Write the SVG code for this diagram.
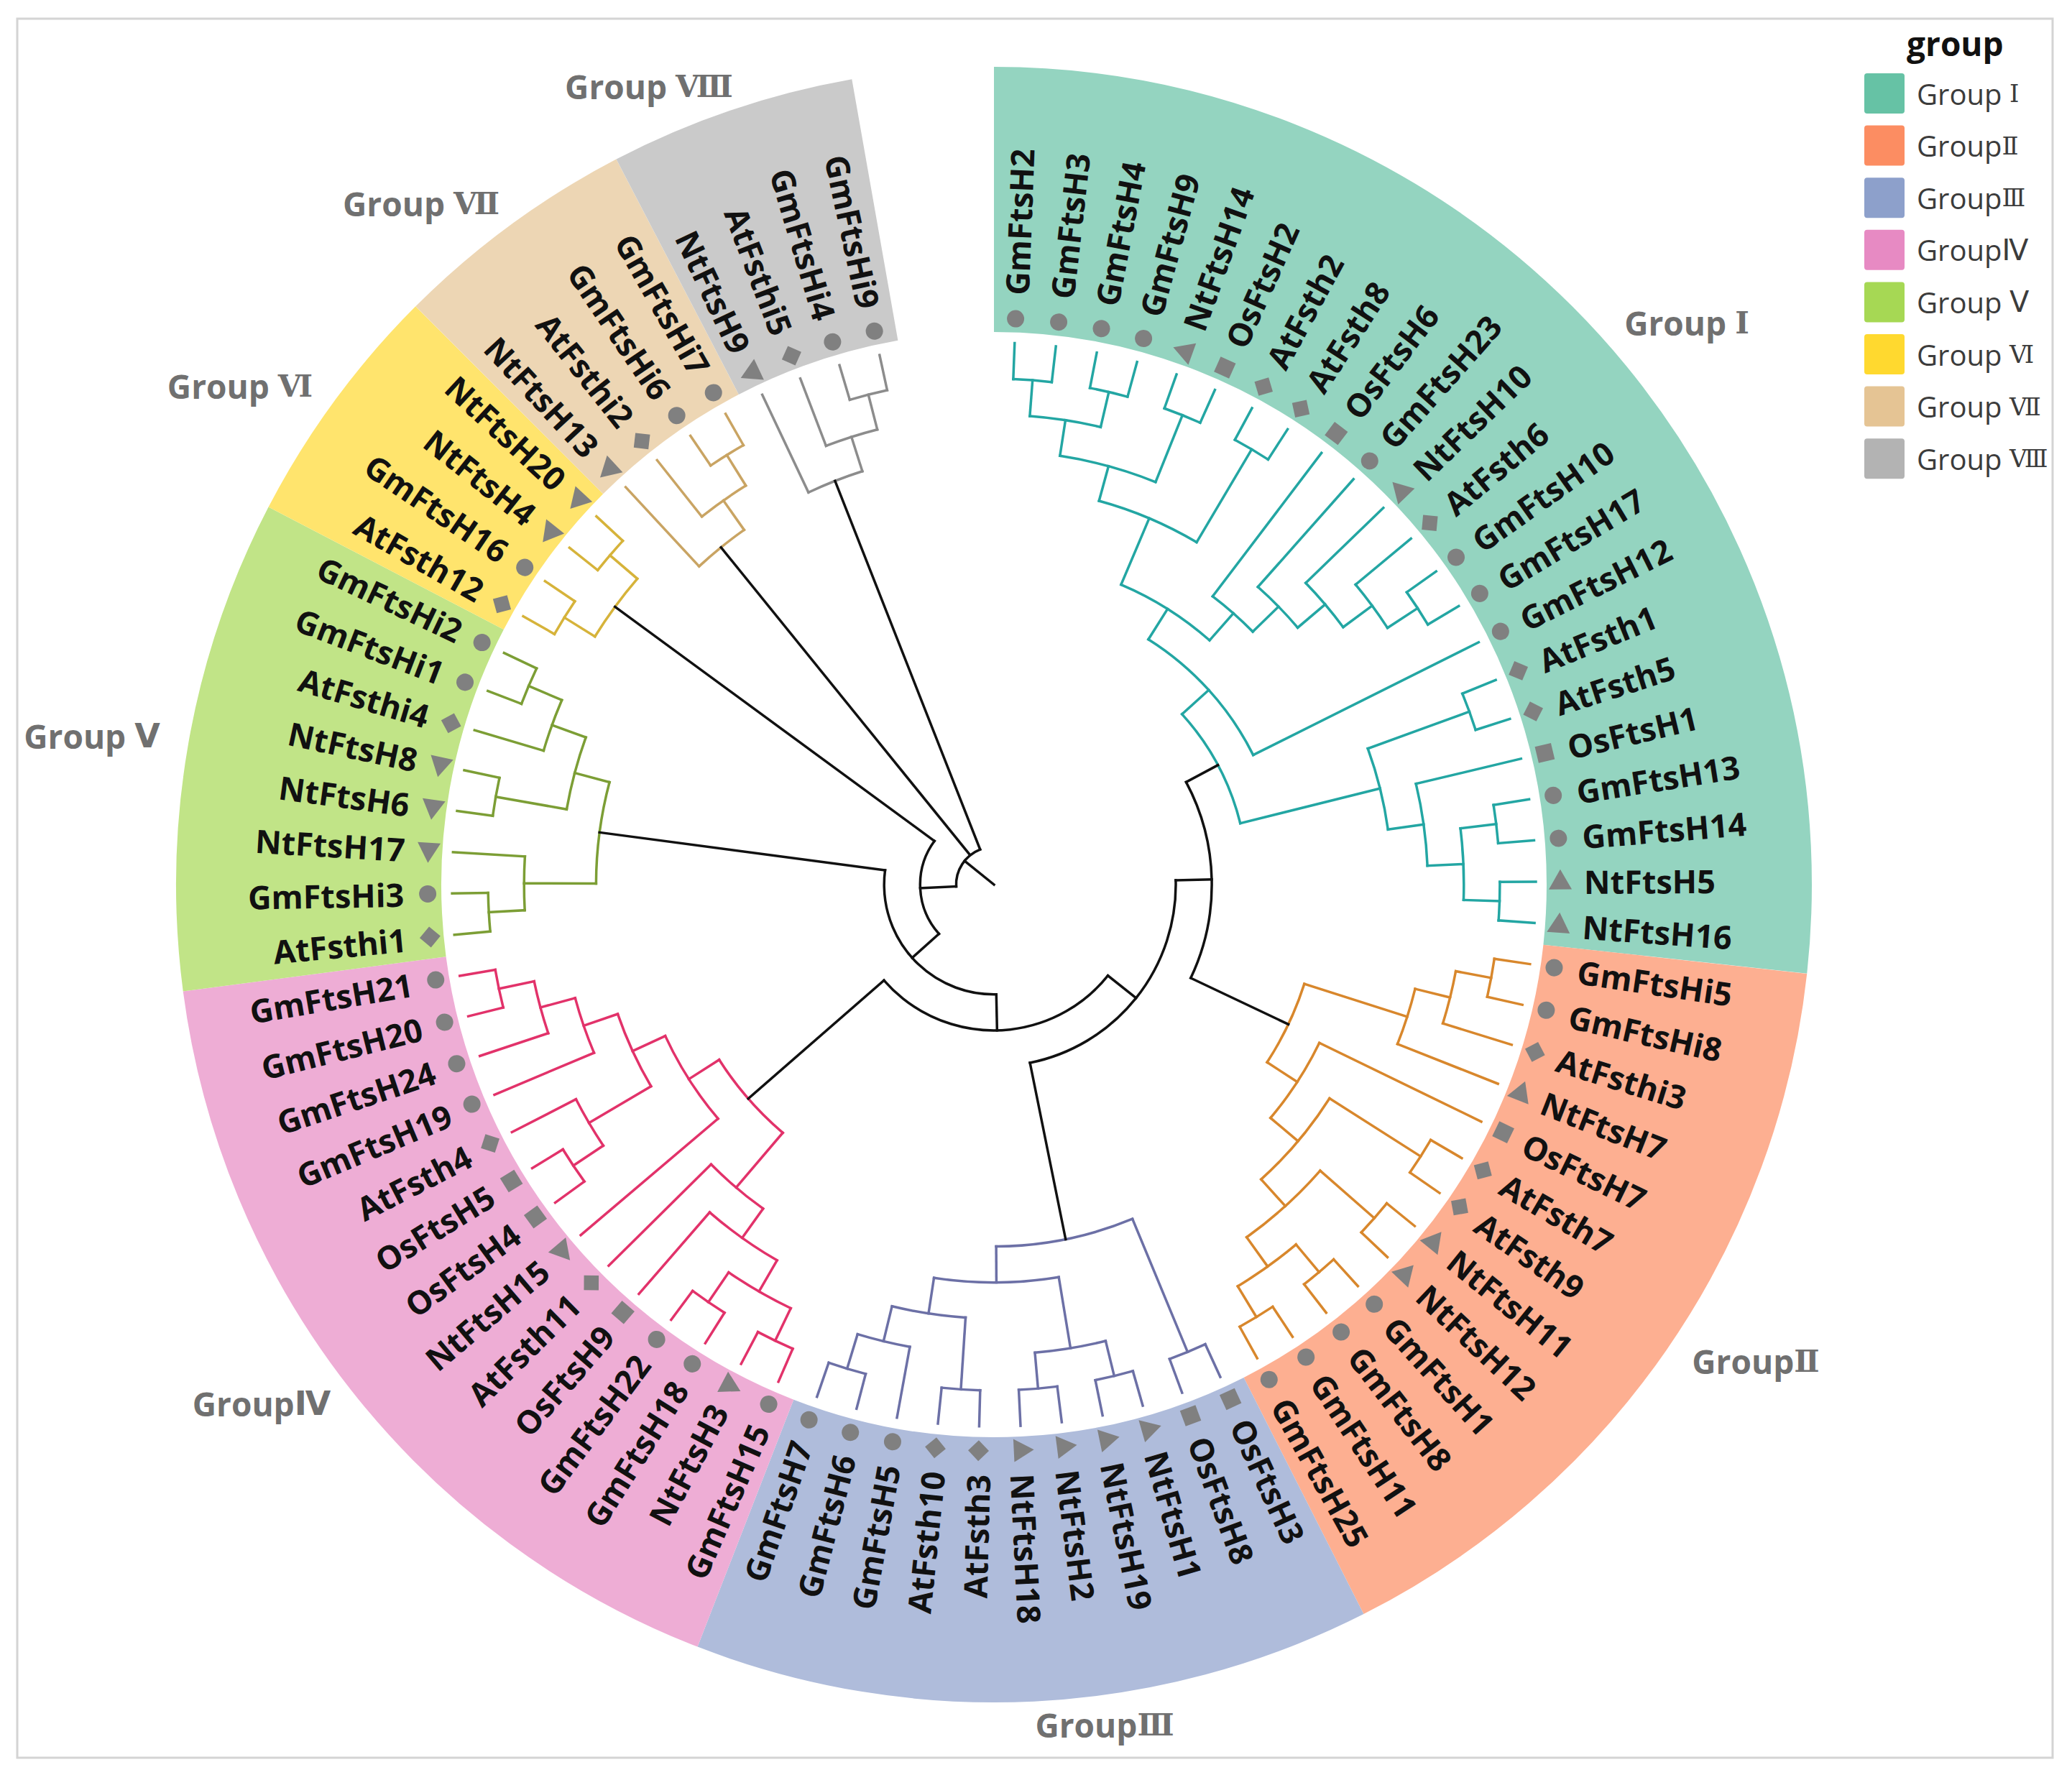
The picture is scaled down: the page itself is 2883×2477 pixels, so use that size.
<svg xmlns="http://www.w3.org/2000/svg" xmlns:xlink="http://www.w3.org/1999/xlink" width="2883" height="2477" viewBox="0 0 2883 2477">
<style>
.c1{stroke:#23a6a3}.c2{stroke:#d8872c}.c3{stroke:#6c70a6}.c4{stroke:#e2326a}
.c5{stroke:#7c9e35}.c6{stroke:#d6b33a}.c7{stroke:#c9a463}.c8{stroke:#8c8c8c}.k{stroke:#111}
.lv text{font-family:"Open Sans","Noto Sans",sans-serif;font-weight:700;font-size:45px;fill:#111;dominant-baseline:central}
.lv text.L{text-anchor:end}
.lv use{fill:#808080}
.gl{font-family:"Open Sans","Noto Sans CJK SC",sans-serif;font-weight:700;font-size:46px;fill:#707070;text-anchor:middle;dominant-baseline:central}
.lg{font-family:"Open Sans","Noto Sans CJK SC",sans-serif;font-size:40px;fill:#3c3c3c;dominant-baseline:central}
.rn{font-family:"DejaVu Serif","DejaVu Sans","Noto Sans CJK SC",serif}
.rs{font-family:"DejaVu Sans","Noto Sans CJK SC",sans-serif}
.gl .rn{font-size:42px}
.lg .rn{font-size:34px}
</style>
<defs>
<circle id="mc" r="12"/>
<rect id="ms" x="-11.5" y="-11.5" width="23" height="23"/>
<polygon id="md" points="0,-14.5 14.5,0 0,14.5 -14.5,0"/>
<polygon id="mt" points="0,-17 16,11 -16,11"/>
<polygon id="mtL" points="0,17 16,-11 -16,-11"/>
</defs>
<rect width="2883" height="2477" fill="#fff"/>
<rect x="24" y="26" width="2832" height="2420" fill="none" stroke="#d4d4d4" stroke-width="3"/>

<g id="bands" transform="translate(1383 1231)" fill="none" stroke-width="369">
<circle r="953.5" pathLength="360" stroke="#94d4c0" stroke-dasharray="96.25 400" transform="rotate(-90)"/>
<circle r="953.5" pathLength="360" stroke="#fdaf91" stroke-dasharray="56.875 400" transform="rotate(6.25)"/>
<circle r="953.5" pathLength="360" stroke="#afbcdb" stroke-dasharray="48.125 400" transform="rotate(63.125)"/>
<circle r="953.5" pathLength="360" stroke="#eeadd5" stroke-dasharray="61.25 400" transform="rotate(111.25)"/>
<circle r="953.5" pathLength="360" stroke="#c1e487" stroke-dasharray="35 400" transform="rotate(172.5)"/>
<circle r="953.5" pathLength="360" stroke="#ffe46d" stroke-dasharray="17.5 400" transform="rotate(207.5)"/>
<circle r="953.5" pathLength="360" stroke="#edd6b4" stroke-dasharray="17.5 400" transform="rotate(225)"/>
<circle r="953.5" pathLength="360" stroke="#cacaca" stroke-dasharray="17.5 400" transform="rotate(242.5)"/>
</g>

<g id="connectors" transform="translate(1383 1231)" fill="none" stroke-width="3.5" stroke-linecap="square">
<g class="c1">
<path d="M0-703.9V-754" transform="rotate(2.1875)"/>
<path d="M0-703.9V-754" transform="rotate(6.5625)"/>
<path d="M0-703.9V-754" transform="rotate(10.9375)"/>
<path d="M0-703.9V-754" transform="rotate(15.3125)"/>
<path d="M0-703.9V-754" transform="rotate(19.6875)"/>
<path d="M0-703.9V-754" transform="rotate(24.0625)"/>
<path d="M0-703.9V-754" transform="rotate(28.4375)"/>
<path d="M0-703.9V-754" transform="rotate(32.8125)"/>
<path d="M0-503.5V-754" transform="rotate(37.1875)"/>
<path d="M0-553.6V-754" transform="rotate(41.5625)"/>
<path d="M0-603.7V-754" transform="rotate(45.9375)"/>
<path d="M0-653.8V-754" transform="rotate(50.3125)"/>
<path d="M0-703.9V-754" transform="rotate(54.6875)"/>
<path d="M0-703.9V-754" transform="rotate(59.0625)"/>
<path d="M0-403.3V-754" transform="rotate(63.4375)"/>
<path d="M0-703.9V-754" transform="rotate(67.8125)"/>
<path d="M0-703.9V-754" transform="rotate(72.1875)"/>
<path d="M0-603.7V-754" transform="rotate(76.5625)"/>
<path d="M0-703.9V-754" transform="rotate(80.9375)"/>
<path d="M0-703.9V-754" transform="rotate(85.3125)"/>
<path d="M0-703.9V-754" transform="rotate(89.6875)"/>
<path d="M0-703.9V-754" transform="rotate(94.0625)"/>
<path d="M0-653.8V-703.9" transform="rotate(4.375)"/>
<path d="M0-653.8V-703.9" transform="rotate(13.125)"/>
<path d="M0-603.7V-653.8" transform="rotate(8.75)"/>
<path d="M0-603.7V-703.9" transform="rotate(21.875)"/>
<path d="M0-553.6V-603.7" transform="rotate(15.3125)"/>
<path d="M0-553.6V-703.9" transform="rotate(30.625)"/>
<path d="M0-453.4V-553.6" transform="rotate(22.96875)"/>
<path d="M0-653.8V-703.9" transform="rotate(56.875)"/>
<path d="M0-603.7V-653.8" transform="rotate(53.59375)"/>
<path d="M0-553.6V-603.7" transform="rotate(49.765625)"/>
<path d="M0-503.5V-553.6" transform="rotate(45.6640625)"/>
<path d="M0-453.4V-503.5" transform="rotate(41.42578)"/>
<path d="M0-403.3V-453.4" transform="rotate(32.19727)"/>
<path d="M0-353.2V-403.3" transform="rotate(47.81738)"/>
<path d="M0-553.6V-703.9" transform="rotate(70)"/>
<path d="M0-653.8V-703.9" transform="rotate(83.125)"/>
<path d="M0-653.8V-703.9" transform="rotate(91.875)"/>
<path d="M0-603.7V-653.8" transform="rotate(87.5)"/>
<path d="M0-553.6V-603.7" transform="rotate(82.03125)"/>
<path d="M0-353.2V-553.6" transform="rotate(76.015625)"/>
<circle r="703.9" pathLength="360" stroke-dasharray="4.375 400" transform="rotate(-87.8125)"/>
<circle r="703.9" pathLength="360" stroke-dasharray="4.375 400" transform="rotate(-79.0625)"/>
<circle r="653.8" pathLength="360" stroke-dasharray="8.75 400" transform="rotate(-85.625)"/>
<circle r="703.9" pathLength="360" stroke-dasharray="4.375 400" transform="rotate(-70.3125)"/>
<circle r="603.7" pathLength="360" stroke-dasharray="13.125 400" transform="rotate(-81.25)"/>
<circle r="703.9" pathLength="360" stroke-dasharray="4.375 400" transform="rotate(-61.5625)"/>
<circle r="553.6" pathLength="360" stroke-dasharray="15.3125 400" transform="rotate(-74.6875)"/>
<circle r="703.9" pathLength="360" stroke-dasharray="4.375 400" transform="rotate(-35.3125)"/>
<circle r="653.8" pathLength="360" stroke-dasharray="6.5625 400" transform="rotate(-39.6875)"/>
<circle r="603.7" pathLength="360" stroke-dasharray="7.65625 400" transform="rotate(-44.0625)"/>
<circle r="553.6" pathLength="360" stroke-dasharray="8.203125 400" transform="rotate(-48.4375)"/>
<circle r="503.5" pathLength="360" stroke-dasharray="8.47656 400" transform="rotate(-52.8125)"/>
<circle r="453.4" pathLength="360" stroke-dasharray="18.45703 400" transform="rotate(-67.03125)"/>
<circle r="403.3" pathLength="360" stroke-dasharray="31.24023 400" transform="rotate(-57.80273)"/>
<circle r="703.9" pathLength="360" stroke-dasharray="4.375 400" transform="rotate(-22.1875)"/>
<circle r="703.9" pathLength="360" stroke-dasharray="4.375 400" transform="rotate(-9.0625)"/>
<circle r="703.9" pathLength="360" stroke-dasharray="4.375 400" transform="rotate(-0.3125)"/>
<circle r="653.8" pathLength="360" stroke-dasharray="8.75 400" transform="rotate(-6.875)"/>
<circle r="603.7" pathLength="360" stroke-dasharray="10.9375 400" transform="rotate(-13.4375)"/>
<circle r="553.6" pathLength="360" stroke-dasharray="12.03125 400" transform="rotate(-20)"/>
<circle r="353.2" pathLength="360" stroke-dasharray="28.19824 400" transform="rotate(-42.18262)"/>
</g>
<g class="c2">
<path d="M0-703.9V-754" transform="rotate(98.4375)"/>
<path d="M0-703.9V-754" transform="rotate(102.8125)"/>
<path d="M0-653.8V-754" transform="rotate(107.1875)"/>
<path d="M0-603.7V-754" transform="rotate(111.5625)"/>
<path d="M0-503.5V-754" transform="rotate(115.9375)"/>
<path d="M0-703.9V-754" transform="rotate(120.3125)"/>
<path d="M0-703.9V-754" transform="rotate(124.6875)"/>
<path d="M0-703.9V-754" transform="rotate(129.0625)"/>
<path d="M0-703.9V-754" transform="rotate(133.4375)"/>
<path d="M0-703.9V-754" transform="rotate(137.8125)"/>
<path d="M0-703.9V-754" transform="rotate(142.1875)"/>
<path d="M0-703.9V-754" transform="rotate(146.5625)"/>
<path d="M0-703.9V-754" transform="rotate(150.9375)"/>
<path d="M0-653.8V-703.9" transform="rotate(100.625)"/>
<path d="M0-603.7V-653.8" transform="rotate(103.90625)"/>
<path d="M0-453.4V-603.7" transform="rotate(107.734375)"/>
<path d="M0-553.6V-703.9" transform="rotate(122.5)"/>
<path d="M0-603.7V-703.9" transform="rotate(131.25)"/>
<path d="M0-653.8V-703.9" transform="rotate(140)"/>
<path d="M0-653.8V-703.9" transform="rotate(148.75)"/>
<path d="M0-603.7V-653.8" transform="rotate(144.375)"/>
<path d="M0-553.6V-603.7" transform="rotate(137.8125)"/>
<path d="M0-503.5V-553.6" transform="rotate(130.15625)"/>
<path d="M0-453.4V-503.5" transform="rotate(123.046875)"/>
<circle r="703.9" pathLength="360" stroke-dasharray="4.375 400" transform="rotate(8.4375)"/>
<circle r="653.8" pathLength="360" stroke-dasharray="6.5625 400" transform="rotate(10.625)"/>
<circle r="603.7" pathLength="360" stroke-dasharray="7.65625 400" transform="rotate(13.90625)"/>
<circle r="703.9" pathLength="360" stroke-dasharray="4.375 400" transform="rotate(30.3125)"/>
<circle r="703.9" pathLength="360" stroke-dasharray="4.375 400" transform="rotate(39.0625)"/>
<circle r="703.9" pathLength="360" stroke-dasharray="4.375 400" transform="rotate(47.8125)"/>
<circle r="703.9" pathLength="360" stroke-dasharray="4.375 400" transform="rotate(56.5625)"/>
<circle r="653.8" pathLength="360" stroke-dasharray="8.75 400" transform="rotate(50)"/>
<circle r="603.7" pathLength="360" stroke-dasharray="13.125 400" transform="rotate(41.25)"/>
<circle r="553.6" pathLength="360" stroke-dasharray="15.3125 400" transform="rotate(32.5)"/>
<circle r="503.5" pathLength="360" stroke-dasharray="14.21875 400" transform="rotate(25.9375)"/>
<circle r="453.4" pathLength="360" stroke-dasharray="15.3125 400" transform="rotate(17.734375)"/>
</g>
<g class="c3">
<path d="M0-703.9V-754" transform="rotate(155.3125)"/>
<path d="M0-703.9V-754" transform="rotate(159.6875)"/>
<path d="M0-703.9V-754" transform="rotate(164.0625)"/>
<path d="M0-703.9V-754" transform="rotate(168.4375)"/>
<path d="M0-703.9V-754" transform="rotate(172.8125)"/>
<path d="M0-703.9V-754" transform="rotate(177.1875)"/>
<path d="M0-703.9V-754" transform="rotate(181.5625)"/>
<path d="M0-703.9V-754" transform="rotate(185.9375)"/>
<path d="M0-653.8V-754" transform="rotate(190.3125)"/>
<path d="M0-703.9V-754" transform="rotate(194.6875)"/>
<path d="M0-703.9V-754" transform="rotate(199.0625)"/>
<path d="M0-503.5V-703.9" transform="rotate(157.5)"/>
<path d="M0-653.8V-703.9" transform="rotate(166.25)"/>
<path d="M0-653.8V-703.9" transform="rotate(175)"/>
<path d="M0-553.6V-653.8" transform="rotate(170.625)"/>
<path d="M0-603.7V-703.9" transform="rotate(183.75)"/>
<path d="M0-653.8V-703.9" transform="rotate(196.875)"/>
<path d="M0-603.7V-653.8" transform="rotate(193.59375)"/>
<path d="M0-553.6V-603.7" transform="rotate(188.671875)"/>
<path d="M0-503.5V-553.6" transform="rotate(179.6484375)"/>
<circle r="703.9" pathLength="360" stroke-dasharray="4.375 400" transform="rotate(65.3125)"/>
<circle r="703.9" pathLength="360" stroke-dasharray="4.375 400" transform="rotate(74.0625)"/>
<circle r="703.9" pathLength="360" stroke-dasharray="4.375 400" transform="rotate(82.8125)"/>
<circle r="653.8" pathLength="360" stroke-dasharray="8.75 400" transform="rotate(76.25)"/>
<circle r="703.9" pathLength="360" stroke-dasharray="4.375 400" transform="rotate(91.5625)"/>
<circle r="703.9" pathLength="360" stroke-dasharray="4.375 400" transform="rotate(104.6875)"/>
<circle r="653.8" pathLength="360" stroke-dasharray="6.5625 400" transform="rotate(100.3125)"/>
<circle r="603.7" pathLength="360" stroke-dasharray="9.84375 400" transform="rotate(93.75)"/>
<circle r="553.6" pathLength="360" stroke-dasharray="18.046875 400" transform="rotate(80.625)"/>
<circle r="503.5" pathLength="360" stroke-dasharray="22.1484375 400" transform="rotate(67.5)"/>
</g>
<g class="c4">
<path d="M0-703.9V-754" transform="rotate(203.4375)"/>
<path d="M0-703.9V-754" transform="rotate(207.8125)"/>
<path d="M0-703.9V-754" transform="rotate(212.1875)"/>
<path d="M0-703.9V-754" transform="rotate(216.5625)"/>
<path d="M0-603.7V-754" transform="rotate(220.9375)"/>
<path d="M0-553.6V-754" transform="rotate(225.3125)"/>
<path d="M0-503.5V-754" transform="rotate(229.6875)"/>
<path d="M0-703.9V-754" transform="rotate(234.0625)"/>
<path d="M0-703.9V-754" transform="rotate(238.4375)"/>
<path d="M0-653.8V-754" transform="rotate(242.8125)"/>
<path d="M0-603.7V-754" transform="rotate(247.1875)"/>
<path d="M0-653.8V-754" transform="rotate(251.5625)"/>
<path d="M0-703.9V-754" transform="rotate(255.9375)"/>
<path d="M0-703.9V-754" transform="rotate(260.3125)"/>
<path d="M0-653.8V-703.9" transform="rotate(258.125)"/>
<path d="M0-603.7V-653.8" transform="rotate(254.84375)"/>
<path d="M0-553.6V-603.7" transform="rotate(251.015625)"/>
<path d="M0-653.8V-703.9" transform="rotate(236.25)"/>
<path d="M0-553.6V-653.8" transform="rotate(239.53125)"/>
<path d="M0-503.5V-553.6" transform="rotate(245.2734375)"/>
<path d="M0-453.4V-503.5" transform="rotate(237.4804688)"/>
<path d="M0-653.8V-703.9" transform="rotate(214.375)"/>
<path d="M0-653.8V-703.9" transform="rotate(205.625)"/>
<path d="M0-603.7V-653.8" transform="rotate(210)"/>
<path d="M0-553.6V-603.7" transform="rotate(215.46875)"/>
<path d="M0-453.4V-553.6" transform="rotate(220.390625)"/>
<circle r="703.9" pathLength="360" stroke-dasharray="4.375 400" transform="rotate(165.9375)"/>
<circle r="653.8" pathLength="360" stroke-dasharray="6.5625 400" transform="rotate(161.5625)"/>
<circle r="603.7" pathLength="360" stroke-dasharray="7.65625 400" transform="rotate(157.1875)"/>
<circle r="703.9" pathLength="360" stroke-dasharray="4.375 400" transform="rotate(144.0625)"/>
<circle r="653.8" pathLength="360" stroke-dasharray="6.5625 400" transform="rotate(146.25)"/>
<circle r="553.6" pathLength="360" stroke-dasharray="11.484375 400" transform="rotate(149.53125)"/>
<circle r="503.5" pathLength="360" stroke-dasharray="15.5859375 400" transform="rotate(139.6875)"/>
<circle r="703.9" pathLength="360" stroke-dasharray="4.375 400" transform="rotate(122.1875)"/>
<circle r="703.9" pathLength="360" stroke-dasharray="4.375 400" transform="rotate(113.4375)"/>
<circle r="653.8" pathLength="360" stroke-dasharray="8.75 400" transform="rotate(115.625)"/>
<circle r="603.7" pathLength="360" stroke-dasharray="10.9375 400" transform="rotate(120)"/>
<circle r="553.6" pathLength="360" stroke-dasharray="9.84375 400" transform="rotate(125.46875)"/>
<circle r="453.4" pathLength="360" stroke-dasharray="17.0898438 400" transform="rotate(130.390625)"/>
</g>
<g class="c5">
<path d="M0-703.9V-754" transform="rotate(264.6875)"/>
<path d="M0-703.9V-754" transform="rotate(269.0625)"/>
<path d="M0-653.8V-754" transform="rotate(273.4375)"/>
<path d="M0-703.9V-754" transform="rotate(277.8125)"/>
<path d="M0-703.9V-754" transform="rotate(282.1875)"/>
<path d="M0-653.8V-754" transform="rotate(286.5625)"/>
<path d="M0-703.9V-754" transform="rotate(290.9375)"/>
<path d="M0-703.9V-754" transform="rotate(295.3125)"/>
<path d="M0-653.8V-703.9" transform="rotate(266.875)"/>
<path d="M0-553.6V-653.8" transform="rotate(270.15625)"/>
<path d="M0-603.7V-703.9" transform="rotate(280)"/>
<path d="M0-653.8V-703.9" transform="rotate(293.125)"/>
<path d="M0-603.7V-653.8" transform="rotate(289.84375)"/>
<path d="M0-553.6V-603.7" transform="rotate(284.921875)"/>
<circle r="703.9" pathLength="360" stroke-dasharray="4.375 400" transform="rotate(174.6875)"/>
<circle r="653.8" pathLength="360" stroke-dasharray="6.5625 400" transform="rotate(176.875)"/>
<circle r="703.9" pathLength="360" stroke-dasharray="4.375 400" transform="rotate(187.8125)"/>
<circle r="703.9" pathLength="360" stroke-dasharray="4.375 400" transform="rotate(200.9375)"/>
<circle r="653.8" pathLength="360" stroke-dasharray="6.5625 400" transform="rotate(196.5625)"/>
<circle r="603.7" pathLength="360" stroke-dasharray="9.84375 400" transform="rotate(190)"/>
<circle r="553.6" pathLength="360" stroke-dasharray="14.765625 400" transform="rotate(180.15625)"/>
</g>
<g class="c6">
<path d="M0-703.9V-754" transform="rotate(299.6875)"/>
<path d="M0-703.9V-754" transform="rotate(304.0625)"/>
<path d="M0-703.9V-754" transform="rotate(308.4375)"/>
<path d="M0-703.9V-754" transform="rotate(312.8125)"/>
<path d="M0-653.8V-703.9" transform="rotate(301.875)"/>
<path d="M0-653.8V-703.9" transform="rotate(310.625)"/>
<circle r="703.9" pathLength="360" stroke-dasharray="4.375 400" transform="rotate(209.6875)"/>
<circle r="703.9" pathLength="360" stroke-dasharray="4.375 400" transform="rotate(218.4375)"/>
<circle r="653.8" pathLength="360" stroke-dasharray="8.75 400" transform="rotate(211.875)"/>
</g>
<g class="c7">
<path d="M0-603.7V-754" transform="rotate(317.1875)"/>
<path d="M0-653.8V-754" transform="rotate(321.5625)"/>
<path d="M0-703.9V-754" transform="rotate(325.9375)"/>
<path d="M0-703.9V-754" transform="rotate(330.3125)"/>
<path d="M0-653.8V-703.9" transform="rotate(328.125)"/>
<path d="M0-603.7V-653.8" transform="rotate(324.84375)"/>
<circle r="703.9" pathLength="360" stroke-dasharray="4.375 400" transform="rotate(235.9375)"/>
<circle r="653.8" pathLength="360" stroke-dasharray="6.5625 400" transform="rotate(231.5625)"/>
<circle r="603.7" pathLength="360" stroke-dasharray="7.65625 400" transform="rotate(227.1875)"/>
</g>
<g class="c8">
<path d="M0-603.7V-754" transform="rotate(334.6875)"/>
<path d="M0-653.8V-754" transform="rotate(339.0625)"/>
<path d="M0-703.9V-754" transform="rotate(343.4375)"/>
<path d="M0-703.9V-754" transform="rotate(347.8125)"/>
<path d="M0-653.8V-703.9" transform="rotate(345.625)"/>
<path d="M0-603.7V-653.8" transform="rotate(342.34375)"/>
<circle r="703.9" pathLength="360" stroke-dasharray="4.375 400" transform="rotate(253.4375)"/>
<circle r="653.8" pathLength="360" stroke-dasharray="6.5625 400" transform="rotate(249.0625)"/>
<circle r="603.7" pathLength="360" stroke-dasharray="7.65625 400" transform="rotate(244.6875)"/>
</g>
<g class="k">
<path d="M0-303.1V-353.2" transform="rotate(61.9165)"/>
<path d="M0-303.1V-453.4" transform="rotate(115.390625)"/>
<path d="M0-253V-503.5" transform="rotate(168.57421875)"/>
<path d="M0-202.9V-453.4" transform="rotate(228.9355469)"/>
<path d="M0-152.8V-553.6" transform="rotate(277.5390625)"/>
<path d="M0-102.7V-653.8" transform="rotate(306.25)"/>
<path d="M0-52.6V-603.7" transform="rotate(321.015625)"/>
<path d="M0-52.6V-603.7" transform="rotate(338.515625)"/>
<path d="M0-253V-303.1" transform="rotate(88.65356)"/>
<path d="M0-202.9V-253" transform="rotate(128.61389)"/>
<path d="M0-152.8V-202.9" transform="rotate(178.77472)"/>
<path d="M0-102.7V-152.8" transform="rotate(228.15689)"/>
<path d="M0-52.6V-102.7" transform="rotate(267.20345)"/>
<path d="M0 0V-52.6" transform="rotate(308.91157)"/>
<circle r="303.1" pathLength="360" stroke-dasharray="53.47412 400" transform="rotate(-28.0835)"/>
<circle r="253" pathLength="360" stroke-dasharray="79.92066 400" transform="rotate(-1.34644)"/>
<circle r="202.9" pathLength="360" stroke-dasharray="100.32166 400" transform="rotate(38.61389)"/>
<circle r="152.8" pathLength="360" stroke-dasharray="98.76434 400" transform="rotate(88.77472)"/>
<circle r="102.7" pathLength="360" stroke-dasharray="78.09311 400" transform="rotate(138.15689)"/>
<circle r="52.6" pathLength="360" stroke-dasharray="71.31218 400" transform="rotate(177.20345)"/>
</g>
</g>

<g id="leaves" class="lv" transform="translate(1383 1231)">
<g id="n-GmFtsH2" transform="rotate(-87.8125)"><use href="#mc" x="788"/><text x="821">GmFtsH2</text></g>
<g id="n-GmFtsH3" transform="rotate(-83.4375)"><use href="#mc" x="788"/><text x="821">GmFtsH3</text></g>
<g id="n-GmFtsH4" transform="rotate(-79.0625)"><use href="#mc" x="788"/><text x="821">GmFtsH4</text></g>
<g id="n-GmFtsH9" transform="rotate(-74.6875)"><use href="#mc" x="788"/><text x="821">GmFtsH9</text></g>
<g id="n-NtFtsH14" transform="rotate(-70.3125)"><use href="#mt" x="788"/><text x="821">NtFtsH14</text></g>
<g id="n-OsFtsH2" transform="rotate(-65.9375)"><use href="#ms" x="788"/><text x="821">OsFtsH2</text></g>
<g id="n-AtFsth2" transform="rotate(-61.5625)"><use href="#md" x="788"/><text x="821">AtFsth2</text></g>
<g id="n-AtFsth8" transform="rotate(-57.1875)"><use href="#md" x="788"/><text x="821">AtFsth8</text></g>
<g id="n-OsFtsH6" transform="rotate(-52.8125)"><use href="#ms" x="788"/><text x="821">OsFtsH6</text></g>
<g id="n-GmFtsH23" transform="rotate(-48.4375)"><use href="#mc" x="788"/><text x="821">GmFtsH23</text></g>
<g id="n-NtFtsH10" transform="rotate(-44.0625)"><use href="#mt" x="788"/><text x="821">NtFtsH10</text></g>
<g id="n-AtFsth6" transform="rotate(-39.6875)"><use href="#md" x="788"/><text x="821">AtFsth6</text></g>
<g id="n-GmFtsH10" transform="rotate(-35.3125)"><use href="#mc" x="788"/><text x="821">GmFtsH10</text></g>
<g id="n-GmFtsH17" transform="rotate(-30.9375)"><use href="#mc" x="788"/><text x="821">GmFtsH17</text></g>
<g id="n-GmFtsH12" transform="rotate(-26.5625)"><use href="#mc" x="788"/><text x="821">GmFtsH12</text></g>
<g id="n-AtFsth1" transform="rotate(-22.1875)"><use href="#md" x="788"/><text x="821">AtFsth1</text></g>
<g id="n-AtFsth5" transform="rotate(-17.8125)"><use href="#md" x="788"/><text x="821">AtFsth5</text></g>
<g id="n-OsFtsH1" transform="rotate(-13.4375)"><use href="#ms" x="788"/><text x="821">OsFtsH1</text></g>
<g id="n-GmFtsH13" transform="rotate(-9.0625)"><use href="#mc" x="788"/><text x="821">GmFtsH13</text></g>
<g id="n-GmFtsH14" transform="rotate(-4.6875)"><use href="#mc" x="788"/><text x="821">GmFtsH14</text></g>
<g id="n-NtFtsH5" transform="rotate(-0.3125)"><use href="#mt" x="788"/><text x="821">NtFtsH5</text></g>
<g id="n-NtFtsH16" transform="rotate(4.0625)"><use href="#mt" x="788"/><text x="821">NtFtsH16</text></g>
<g id="n-GmFtsHi5" transform="rotate(8.4375)"><use href="#mc" x="788"/><text x="821">GmFtsHi5</text></g>
<g id="n-GmFtsHi8" transform="rotate(12.8125)"><use href="#mc" x="788"/><text x="821">GmFtsHi8</text></g>
<g id="n-AtFsthi3" transform="rotate(17.1875)"><use href="#md" x="788"/><text x="821">AtFsthi3</text></g>
<g id="n-NtFtsH7" transform="rotate(21.5625)"><use href="#mt" x="788"/><text x="821">NtFtsH7</text></g>
<g id="n-OsFtsH7" transform="rotate(25.9375)"><use href="#ms" x="788"/><text x="821">OsFtsH7</text></g>
<g id="n-AtFsth7" transform="rotate(30.3125)"><use href="#md" x="788"/><text x="821">AtFsth7</text></g>
<g id="n-AtFsth9" transform="rotate(34.6875)"><use href="#md" x="788"/><text x="821">AtFsth9</text></g>
<g id="n-NtFtsH11" transform="rotate(39.0625)"><use href="#mt" x="788"/><text x="821">NtFtsH11</text></g>
<g id="n-NtFtsH12" transform="rotate(43.4375)"><use href="#mt" x="788"/><text x="821">NtFtsH12</text></g>
<g id="n-GmFtsH1" transform="rotate(47.8125)"><use href="#mc" x="788"/><text x="821">GmFtsH1</text></g>
<g id="n-GmFtsH8" transform="rotate(52.1875)"><use href="#mc" x="788"/><text x="821">GmFtsH8</text></g>
<g id="n-GmFtsH11" transform="rotate(56.5625)"><use href="#mc" x="788"/><text x="821">GmFtsH11</text></g>
<g id="n-GmFtsH25" transform="rotate(60.9375)"><use href="#mc" x="788"/><text x="821">GmFtsH25</text></g>
<g id="n-OsFtsH3" transform="rotate(65.3125)"><use href="#ms" x="788"/><text x="821">OsFtsH3</text></g>
<g id="n-OsFtsH8" transform="rotate(69.6875)"><use href="#ms" x="788"/><text x="821">OsFtsH8</text></g>
<g id="n-NtFtsH1" transform="rotate(74.0625)"><use href="#mt" x="788"/><text x="821">NtFtsH1</text></g>
<g id="n-NtFtsH19" transform="rotate(78.4375)"><use href="#mt" x="788"/><text x="821">NtFtsH19</text></g>
<g id="n-NtFtsH2" transform="rotate(82.8125)"><use href="#mt" x="788"/><text x="821">NtFtsH2</text></g>
<g id="n-NtFtsH18" transform="rotate(87.1875)"><use href="#mt" x="788"/><text x="821">NtFtsH18</text></g>
<g id="n-AtFsth3" transform="rotate(-88.4375)"><use href="#md" x="-788"/><text class="L" x="-821">AtFsth3</text></g>
<g id="n-AtFsth10" transform="rotate(-84.0625)"><use href="#md" x="-788"/><text class="L" x="-821">AtFsth10</text></g>
<g id="n-GmFtsH5" transform="rotate(-79.6875)"><use href="#mc" x="-788"/><text class="L" x="-821">GmFtsH5</text></g>
<g id="n-GmFtsH6" transform="rotate(-75.3125)"><use href="#mc" x="-788"/><text class="L" x="-821">GmFtsH6</text></g>
<g id="n-GmFtsH7" transform="rotate(-70.9375)"><use href="#mc" x="-788"/><text class="L" x="-821">GmFtsH7</text></g>
<g id="n-GmFtsH15" transform="rotate(-66.5625)"><use href="#mc" x="-788"/><text class="L" x="-821">GmFtsH15</text></g>
<g id="n-NtFtsH3" transform="rotate(-62.1875)"><use href="#mtL" x="-788"/><text class="L" x="-821">NtFtsH3</text></g>
<g id="n-GmFtsH18" transform="rotate(-57.8125)"><use href="#mc" x="-788"/><text class="L" x="-821">GmFtsH18</text></g>
<g id="n-GmFtsH22" transform="rotate(-53.4375)"><use href="#mc" x="-788"/><text class="L" x="-821">GmFtsH22</text></g>
<g id="n-OsFtsH9" transform="rotate(-49.0625)"><use href="#ms" x="-788"/><text class="L" x="-821">OsFtsH9</text></g>
<g id="n-AtFsth11" transform="rotate(-44.6875)"><use href="#md" x="-788"/><text class="L" x="-821">AtFsth11</text></g>
<g id="n-NtFtsH15" transform="rotate(-40.3125)"><use href="#mtL" x="-788"/><text class="L" x="-821">NtFtsH15</text></g>
<g id="n-OsFtsH4" transform="rotate(-35.9375)"><use href="#ms" x="-788"/><text class="L" x="-821">OsFtsH4</text></g>
<g id="n-OsFtsH5" transform="rotate(-31.5625)"><use href="#ms" x="-788"/><text class="L" x="-821">OsFtsH5</text></g>
<g id="n-AtFsth4" transform="rotate(-27.1875)"><use href="#md" x="-788"/><text class="L" x="-821">AtFsth4</text></g>
<g id="n-GmFtsH19" transform="rotate(-22.8125)"><use href="#mc" x="-788"/><text class="L" x="-821">GmFtsH19</text></g>
<g id="n-GmFtsH24" transform="rotate(-18.4375)"><use href="#mc" x="-788"/><text class="L" x="-821">GmFtsH24</text></g>
<g id="n-GmFtsH20" transform="rotate(-14.0625)"><use href="#mc" x="-788"/><text class="L" x="-821">GmFtsH20</text></g>
<g id="n-GmFtsH21" transform="rotate(-9.6875)"><use href="#mc" x="-788"/><text class="L" x="-821">GmFtsH21</text></g>
<g id="n-AtFsthi1" transform="rotate(-5.3125)"><use href="#md" x="-788"/><text class="L" x="-821">AtFsthi1</text></g>
<g id="n-GmFtsHi3" transform="rotate(-0.9375)"><use href="#mc" x="-788"/><text class="L" x="-821">GmFtsHi3</text></g>
<g id="n-NtFtsH17" transform="rotate(3.4375)"><use href="#mtL" x="-788"/><text class="L" x="-821">NtFtsH17</text></g>
<g id="n-NtFtsH6" transform="rotate(7.8125)"><use href="#mtL" x="-788"/><text class="L" x="-821">NtFtsH6</text></g>
<g id="n-NtFtsH8" transform="rotate(12.1875)"><use href="#mtL" x="-788"/><text class="L" x="-821">NtFtsH8</text></g>
<g id="n-AtFsthi4" transform="rotate(16.5625)"><use href="#md" x="-788"/><text class="L" x="-821">AtFsthi4</text></g>
<g id="n-GmFtsHi1" transform="rotate(20.9375)"><use href="#mc" x="-788"/><text class="L" x="-821">GmFtsHi1</text></g>
<g id="n-GmFtsHi2" transform="rotate(25.3125)"><use href="#mc" x="-788"/><text class="L" x="-821">GmFtsHi2</text></g>
<g id="n-AtFsth12" transform="rotate(29.6875)"><use href="#md" x="-788"/><text class="L" x="-821">AtFsth12</text></g>
<g id="n-GmFtsH16" transform="rotate(34.0625)"><use href="#mc" x="-788"/><text class="L" x="-821">GmFtsH16</text></g>
<g id="n-NtFtsH4" transform="rotate(38.4375)"><use href="#mtL" x="-788"/><text class="L" x="-821">NtFtsH4</text></g>
<g id="n-NtFtsH20" transform="rotate(42.8125)"><use href="#mtL" x="-788"/><text class="L" x="-821">NtFtsH20</text></g>
<g id="n-NtFtsH13" transform="rotate(47.1875)"><use href="#mtL" x="-788"/><text class="L" x="-821">NtFtsH13</text></g>
<g id="n-AtFsthi2" transform="rotate(51.5625)"><use href="#md" x="-788"/><text class="L" x="-821">AtFsthi2</text></g>
<g id="n-GmFtsHi6" transform="rotate(55.9375)"><use href="#mc" x="-788"/><text class="L" x="-821">GmFtsHi6</text></g>
<g id="n-GmFtsHi7" transform="rotate(60.3125)"><use href="#mc" x="-788"/><text class="L" x="-821">GmFtsHi7</text></g>
<g id="n-NtFtsH9" transform="rotate(64.6875)"><use href="#mtL" x="-788"/><text class="L" x="-821">NtFtsH9</text></g>
<g id="n-AtFsthi5" transform="rotate(69.0625)"><use href="#md" x="-788"/><text class="L" x="-821">AtFsthi5</text></g>
<g id="n-GmFtsHi4" transform="rotate(73.4375)"><use href="#mc" x="-788"/><text class="L" x="-821">GmFtsHi4</text></g>
<g id="n-GmFtsHi9" transform="rotate(77.8125)"><use href="#mc" x="-788"/><text class="L" x="-821">GmFtsHi9</text></g>
</g>

<g id="group-labels">
<text class="gl" x="2347" y="449">Group <tspan class="rn">Ⅰ</tspan></text>
<text class="gl" x="2443" y="1894">Group<tspan class="rn">Ⅱ</tspan></text>
<text class="gl" x="1537" y="2400">Group<tspan class="rn">Ⅲ</tspan></text>
<text class="gl" x="364" y="1953">Group<tspan class="rs">Ⅳ</tspan></text>
<text class="gl" x="128" y="1024">Group <tspan class="rs">Ⅴ</tspan></text>
<text class="gl" x="334" y="537">Group <tspan class="rn">Ⅵ</tspan></text>
<text class="gl" x="586" y="283">Group <tspan class="rn">Ⅶ</tspan></text>
<text class="gl" x="903" y="120">Group <tspan class="rn">Ⅷ</tspan></text>
</g>

<g id="legend">
<text x="2653" y="78" font-family="Open Sans, sans-serif" font-weight="700" font-size="46" fill="#111">group</text>
<rect x="2594" y="102" width="56" height="56" rx="4" fill="#66c2a5"/>
<rect x="2594" y="174.6" width="56" height="56" rx="4" fill="#fc8d62"/>
<rect x="2594" y="247.2" width="56" height="56" rx="4" fill="#8da0cb"/>
<rect x="2594" y="319.8" width="56" height="56" rx="4" fill="#e78ac3"/>
<rect x="2594" y="392.4" width="56" height="56" rx="4" fill="#a6d854"/>
<rect x="2594" y="465" width="56" height="56" rx="4" fill="#ffd92f"/>
<rect x="2594" y="537.6" width="56" height="56" rx="4" fill="#e5c494"/>
<rect x="2594" y="610.2" width="56" height="56" rx="4" fill="#b3b3b3"/>
<text class="lg" x="2667" y="130">Group <tspan class="rn">Ⅰ</tspan></text>
<text class="lg" x="2667" y="202.6">Group<tspan class="rn">Ⅱ</tspan></text>
<text class="lg" x="2667" y="275.2">Group<tspan class="rn">Ⅲ</tspan></text>
<text class="lg" x="2667" y="347.8">Group<tspan class="rs">Ⅳ</tspan></text>
<text class="lg" x="2667" y="420.4">Group <tspan class="rs">Ⅴ</tspan></text>
<text class="lg" x="2667" y="493">Group <tspan class="rn">Ⅵ</tspan></text>
<text class="lg" x="2667" y="565.6">Group <tspan class="rn">Ⅶ</tspan></text>
<text class="lg" x="2667" y="638.2">Group <tspan class="rn">Ⅷ</tspan></text>
</g>
</svg>
